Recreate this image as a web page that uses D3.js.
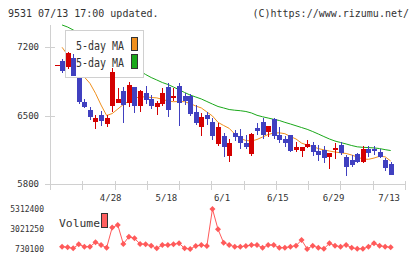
<!DOCTYPE html>
<html><head><meta charset="utf-8">
<script src="https://cdn.jsdelivr.net/npm/d3@7"></script>
<style>body{margin:0;background:#fff}svg{display:block}text{font-family:'DejaVu Sans Mono',monospace;fill:#333}</style>
</head><body><svg id="c" width="420" height="259"></svg>
<script>
const dates = ["4/14","4/15","4/16","4/17","4/20","4/21","4/22","4/23","4/24","4/27","4/28","4/30",
"5/1","5/7","5/8","5/11","5/12","5/13","5/14","5/15","5/18","5/19","5/20","5/21","5/22","5/25","5/26","5/27","5/28","5/29",
"6/1","6/2","6/3","6/4","6/5","6/8","6/9","6/10","6/11","6/12","6/15","6/16","6/17","6/18","6/19","6/22","6/23","6/24","6/25","6/26","6/29","6/30",
"7/1","7/2","7/3","7/6","7/7","7/8","7/9","7/10","7/13"];
const open  = [7020,7060,6999,7085,6886,6641,6556,6437,6505,6410,6600,6631,6753,6631,6794,6600,6733,6669,6584,6617,6788,6682,6801,6699,6699,6539,6386,6505,6437,6209,6290,6089,6324,6290,6222,6107,6375,6437,6334,6461,6301,6260,6301,6147,6141,6175,6198,6137,6147,6079,6147,6198,6079,6045,6103,6028,6154,6154,6130,6045,6004];
const high  = [7020,7077,7152,7128,6886,6666,6590,6505,6549,6505,6982,6778,6794,6845,6794,6760,6800,6709,6651,6784,6829,6778,6835,6727,6720,6607,6522,6539,6471,6420,6324,6257,6352,6359,6301,6318,6420,6471,6393,6478,6386,6290,6301,6232,6181,6250,6232,6198,6188,6113,6216,6226,6096,6096,6120,6188,6188,6188,6154,6069,6028];
const low   = [7020,6931,6975,6900,6617,6574,6454,6359,6393,6379,6539,6630,6420,6590,6529,6539,6615,6563,6505,6600,6481,6651,6393,6607,6494,6403,6294,6403,6250,6188,6079,6028,6242,6158,6158,6089,6301,6257,6283,6257,6216,6175,6124,6124,6079,6165,6089,6038,6011,5953,6056,6096,5885,5970,6011,6018,6079,6096,6062,5936,5892];
const close = [7020,6950,7136,6907,6635,6590,6481,6477,6447,6477,6941,6665,6605,6812,6600,6753,6658,6597,6631,6733,6556,6702,6631,6645,6515,6426,6488,6464,6294,6386,6175,6222,6283,6216,6181,6311,6342,6301,6393,6294,6250,6222,6141,6181,6181,6209,6130,6096,6062,6113,6165,6113,5977,5994,6028,6154,6113,6141,6079,5960,5892];
const ma5   = [null,7197,7118,7036,6965,6893,6829,6727,6607,6500,6520,6566,6612,6648,6674,6692,6689,6684,6680,6665,6648,6641,6643,6641,6622,6597,6577,6536,6495,6430,6398,6369,6311,6265,6245,6239,6255,6280,6306,6321,6323,6314,6285,6260,6218,6198,6183,6162,6149,6137,6127,6119,6112,6096,6076,6055,6052,6065,6083,6078,6035];
const ma25  = [null,7425,7404,7374,7338,7302,7266,7231,7195,7164,7128,7098,7062,7026,6990,6954,6919,6888,6863,6837,6817,6791,6763,6735,6709,6689,6669,6643,6617,6592,6577,6561,6554,6549,6541,6526,6502,6487,6474,6461,6449,6430,6413,6395,6377,6359,6336,6311,6285,6260,6239,6224,6209,6193,6180,6175,6172,6169,6162,6151,6142];
const volume= [null,994000,925000,810000,1269000,994000,994000,1498000,1188000,879000,3200000,3479000,1303000,2139000,1956000,1303000,1269000,1108000,810000,1188000,1188000,1269000,1383000,810000,730100,1074000,1188000,1074000,5312400,2987000,1452000,1188000,994000,994000,1074000,1188000,1188000,879000,1188000,1188000,879000,879000,994000,1108000,1761000,740000,1108000,879000,750000,1383000,1108000,994000,1188000,879000,745000,760000,994000,1383000,1108000,994000,925000];
const priceTicks = [7200,6500,5800];
const volTicks = [5312400,3021250,730100];
const dateLabels = ["4/28","5/18","6/1","6/15","6/29","7/13"];

const svg = d3.select("#c");
const UP = "#d40000", DOWN = "#4040c0", AX = "#d0d0d0", VOL = "#ff5a5a";
const x = d3.scalePoint().domain(dates).range([56.5, 390.7]);
const y = d3.scaleLinear().domain([5800, 7200]).range([184, 47]);
const yv = d3.scaleLinear().domain([730100, 5312400]).range([249, 209]);
const grid = d3.scaleLinear().domain([0, 11]).range([50, 405]);

// title
svg.append("text").attr("x", 8).attr("y", 17).attr("font-size", 10).text("9531 07/13 17:00 updated.");
svg.append("text").attr("x", 409).attr("y", 17).attr("font-size", 10).attr("text-anchor", "end").text("(C)https://www.rizumu.net/");

// axes
const ax = svg.append("g").attr("stroke", AX).attr("stroke-width", 1).attr("shape-rendering", "crispEdges");
ax.append("line").attr("x1", 50.5).attr("x2", 50.5).attr("y1", 25).attr("y2", 190);
ax.append("line").attr("x1", 50).attr("x2", 405).attr("y1", 184.5).attr("y2", 184.5);
ax.selectAll(".yt").data(priceTicks).join("line").attr("x1", 45).attr("x2", 55).attr("y1", d => Math.round(y(d)) + 0.5).attr("y2", d => Math.round(y(d)) + 0.5);
ax.selectAll(".xt").data(d3.range(12)).join("line").attr("x1", d => Math.round(grid(d)) + 0.5).attr("x2", d => Math.round(grid(d)) + 0.5).attr("y1", 181).attr("y2", 190);

svg.selectAll(".ptl").data(priceTicks).join("text").attr("x", 39).attr("y", d => y(d) + 3).attr("font-size", 9).attr("text-anchor", "end").text(d => d);
svg.selectAll(".dl").data(dateLabels).join("text").attr("x", d => x(d) - 1.5).attr("y", 201).attr("font-size", 9).attr("text-anchor", "middle").text(d => d);

// MA lines
const idx = d3.range(dates.length);
const lineP = arr => d3.line().defined(i => arr[i] != null).x(i => x(dates[i])).y(i => y(arr[i]));
svg.append("path").attr("d", lineP(ma25)(idx)).attr("fill", "none").attr("stroke", "#1aa81a").attr("stroke-width", 1);
svg.append("path").attr("d", lineP(ma5)(idx)).attr("fill", "none").attr("stroke", "#f0901e").attr("stroke-width", 1);

// legend (under candles)
const lg = svg.append("g");
lg.append("rect").attr("x", 65.5).attr("y", 30.5).attr("width", 78).attr("height", 47).attr("fill", "#fff").attr("stroke", "#d0d0d0");
lg.append("text").attr("x", 124).attr("y", 50).attr("font-size", 12).attr("text-anchor", "end").attr("textLength", 48).attr("lengthAdjust", "spacingAndGlyphs").text("5-day MA");
lg.append("text").attr("x", 124).attr("y", 67).attr("font-size", 12).attr("text-anchor", "end").attr("textLength", 54).attr("lengthAdjust", "spacingAndGlyphs").text("25-day MA");
lg.append("rect").attr("x", 131.5).attr("y", 37.5).attr("width", 6).attr("height", 13).attr("fill", "#f0901e").attr("stroke", "#333");
lg.append("rect").attr("x", 131.5).attr("y", 54.5).attr("width", 6).attr("height", 14).attr("fill", "#1aa81a").attr("stroke", "#333");

// candles
const cw = 4.6;
const cg = svg.append("g").attr("shape-rendering", "crispEdges");
idx.forEach(i => {
  const c = close[i] >= open[i] ? UP : DOWN;
  const cx = Math.round(x(dates[i]));
  cg.append("line").attr("x1", cx + 0.5).attr("x2", cx + 0.5).attr("y1", y(high[i])).attr("y2", y(low[i])).attr("stroke", c);
  const top = y(Math.max(open[i], close[i])), bot = y(Math.min(open[i], close[i]));
  cg.append("rect").attr("x", cx + 0.5 - cw / 2).attr("y", top).attr("width", cw).attr("height", Math.max(1, bot - top)).attr("fill", c);
});

// volume
const vIdx = idx.filter(i => volume[i] != null);
svg.selectAll(".vtl").data(volTicks).join("text").attr("x", 44).attr("y", d => yv(d) + 3).attr("font-size", 8).attr("text-anchor", "end").text(d => d);
svg.append("path").attr("d", d3.line().x(i => x(dates[i])).y(i => yv(volume[i]))(vIdx)).attr("fill", "none").attr("stroke", VOL).attr("stroke-width", 1);
svg.selectAll(".vd").data(vIdx).join("path").attr("transform", i => `translate(${x(dates[i])},${yv(volume[i])}) rotate(45)`).attr("d", d3.symbol(d3.symbolSquare, 18)).attr("fill", VOL);
svg.append("text").attr("x", 59).attr("y", 227).attr("font-size", 11).attr("textLength", 41).attr("lengthAdjust", "spacingAndGlyphs").text("Volume");
svg.append("rect").attr("x", 101.5).attr("y", 213.5).attr("width", 6).attr("height", 14).attr("fill", "#ff6060").attr("stroke", "#333");
</script></body></html>
